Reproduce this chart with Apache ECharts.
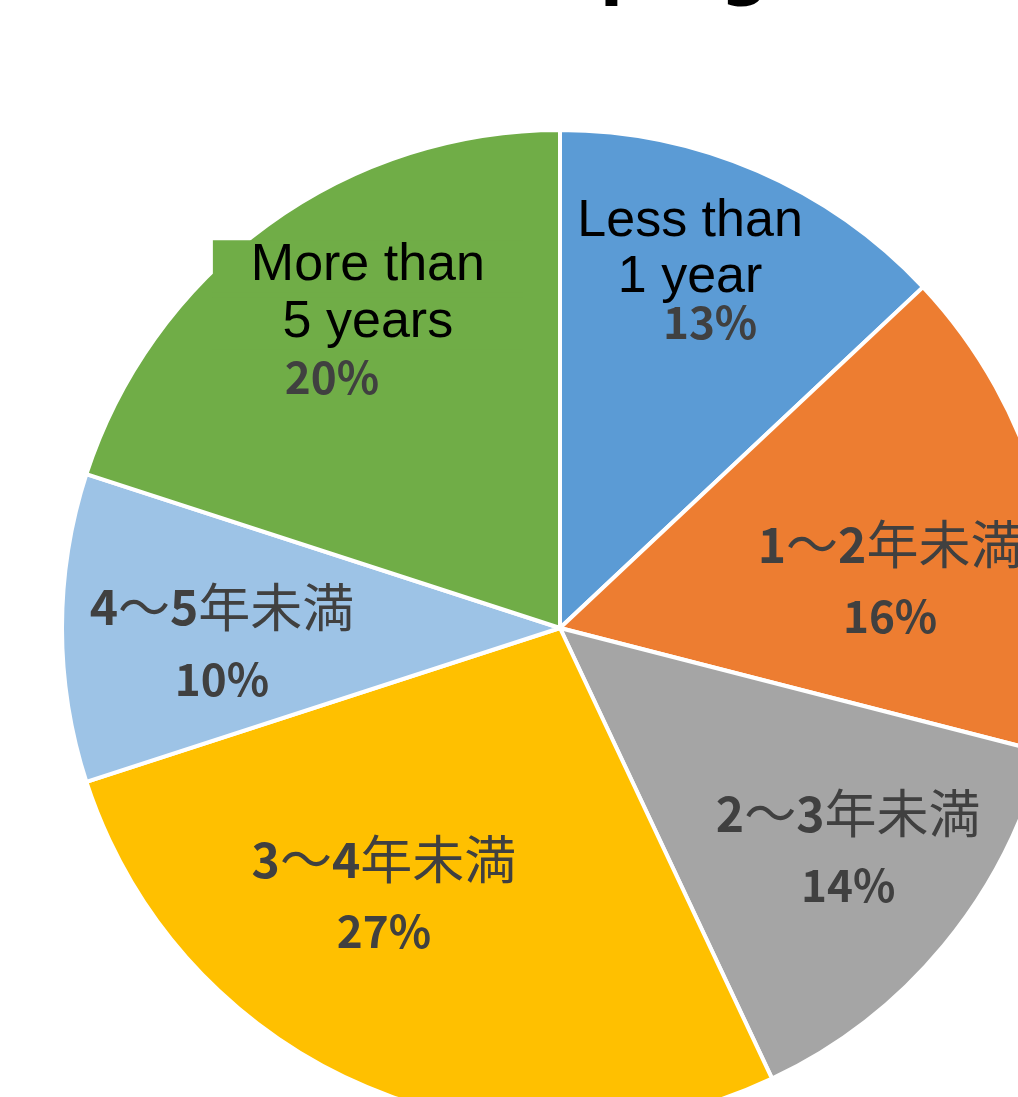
<!DOCTYPE html>
<html>
<head>
<meta charset="utf-8">
<title>Keeping Period</title>
<script src="https://cdn.jsdelivr.net/npm/echarts@6/dist/echarts.min.js"></script>
<style>
  html, body { margin: 0; padding: 0; background: #ffffff; }
  #chart { width: 1018px; height: 1097px; }
</style>
</head>
<body>
<div id="chart"></div>
<script>
// Slice names, clockwise from 12 o'clock
const categories = ['Less than\n1 year', '1〜2年未満', '2〜3年未満', '3〜4年未満', '4〜5年未満', 'More than\n5 years'];
// Share of each group, in percent
const shares = [13, 16, 14, 27, 10, 20];
// Slice colours
const sliceColors = ['#5B9BD5', '#ED7D31', '#A5A5A5', '#FFC000', '#9DC3E6', '#70AD47'];

// Nudge of each label away from the default mid-radius spot
const labelShift = [[30, -130], [86, 15], [94, 61], [-76, 36], [-86, 15], [-44, -104]];

const chart = echarts.init(document.getElementById('chart'), null, { renderer: 'canvas' });

function labelText(params) {
  const i = params.dataIndex;
  const pct = params.value + '%';
  const lines = params.name.split('\n');
  if (/[A-Za-z]/.test(params.name)) {
    const style = i === 5 ? 'box' : 'en';
    const pctStyle = i === 5 ? 'pl' : 'pr';
    return lines.map(l => '{' + style + '|' + l + '}').join('\n') + '\n{' + pctStyle + '|' + pct + '}';
  }
  // Japanese names: digits bold, kana/kanji regular
  const parts = lines[0].match(/(\d+|[^\d]+)/g);
  const first = parts.map(s => /\d/.test(s) ? '{d|' + s + '}' : '{j|' + s + '}').join('');
  return first + '\n{p|' + pct + '}';
}

const option = {
  animation: false,
  backgroundColor: '#ffffff',
  title: {
    text: 'Keeping Period',
    left: 456,
    top: -60,
    padding: 0,
    textStyle: {
      fontFamily: 'DejaVu Sans',
      fontWeight: 'bold',
      fontSize: 68,
      color: '#000000'
    }
  },
  series: [{
    type: 'pie',
    center: [560, 628],
    radius: 498,
    startAngle: 90,
    clockwise: true,
    avoidLabelOverlap: false,
    itemStyle: { borderColor: '#ffffff', borderWidth: 4 },
    emphasis: { disabled: true },
    labelLine: { show: false },
    label: {
      show: true,
      position: 'inside',
      align: 'center',
      formatter: labelText,
      rich: {
        en: { fontFamily: 'Liberation Sans', fontSize: 52, color: '#000000', lineHeight: 56, align: 'center' },
        box: { fontFamily: 'Liberation Sans', fontSize: 52, color: '#000000', lineHeight: 57, width: 310,
               backgroundColor: '#70AD47', align: 'center' },
        pr: { fontFamily: 'Noto Sans CJK JP', fontWeight: 'bold', fontSize: 44, color: '#404040', lineHeight: 34,
              padding: [0, 0, 0, 40] },
        pl: { fontFamily: 'Noto Sans CJK JP', fontWeight: 'bold', fontSize: 44, color: '#404040', lineHeight: 51,
              padding: [0, 72, 0, 0] },
        d: { fontFamily: 'Noto Sans CJK JP', fontWeight: 'bold', fontSize: 48, color: '#404040', lineHeight: 72 },
        j: { fontFamily: 'Noto Sans CJK JP', fontSize: 52, color: '#404040', lineHeight: 72 },
        p: { fontFamily: 'Noto Sans CJK JP', fontWeight: 'bold', fontSize: 44, color: '#404040', lineHeight: 72 }
      }
    },
    labelLayout: function (params) {
      const s = labelShift[params.dataIndex];
      return { dx: s[0], dy: s[1] };
    },
    data: categories.map((name, i) => ({
      name: name,
      value: shares[i],
      itemStyle: { color: sliceColors[i] }
    }))
  }]
};

chart.setOption(option);
</script>
</body>
</html>
